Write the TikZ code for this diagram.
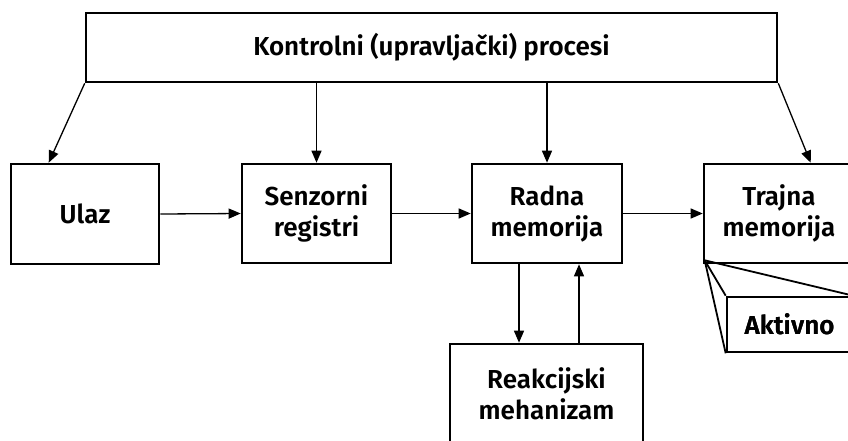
\documentclass[tikz,border=0pt]{standalone}
\usepackage{fontspec}
\IfFontExistsTF{Fira Sans SemiBold}
  {\setmainfont{Fira Sans}[BoldFont={Fira Sans SemiBold}]}
  {\setmainfont{Fira Sans}}
\usetikzlibrary{arrows.meta,calc}
\tikzset{
  box/.style={draw,line width=2.6pt,fill=white,align=center,inner sep=0pt,
    font=\fontsize{26}{31}\selectfont\bfseries},
  arr/.style={line width=1.3pt,-{Triangle[length=12pt,width=10pt]}},
  wedge/.style={line width=1.8pt}
}
\begin{document}
\begin{tikzpicture}[x=1pt,y=-1pt]
\useasboundingbox (0,0) rectangle (848,440);
\clip (0,0) rectangle (848,440);
\node[box,minimum width=691pt,minimum height=69pt] (top) at (431.5,47.5) {Kontrolni (upravljački) procesi};
\node[box,minimum width=148pt,minimum height=100pt] (ulaz) at (85,214) {Ulaz};
\node[box,minimum width=149pt,minimum height=99pt] (senz) at (316.5,213.5) {Senzorni\\registri};
\node[box,minimum width=150pt,minimum height=99pt] (radna) at (547,213.5) {Radna\\memorija};
\node[box,minimum width=150pt,minimum height=99pt] (trajna) at (779,213.5) {Trajna\\memorija};
\node[box,minimum width=193pt,minimum height=100pt] (reak) at (546.5,394) {Reakcijski\\mehanizam};
\coordinate (p) at ($(trajna.south west)+(2,-4)$);
\node[box,minimum width=125pt,minimum height=55pt] (akt) at (789.5,324.5) {Aktivno};
\draw[wedge] (p) -- (akt.north east);
\draw[wedge] (p) -- (akt.north west);
\draw[wedge] (p) -- (akt.south west);
\node[box,draw=none,fill=none] at (akt.center) {Aktivno};
% connectors from top
\draw[arr] (top.south west) -- ($(ulaz.north west)+(39,0)$);
\draw[arr] (top.south -| senz.north) -- (senz.north);
\draw[arr] (top.south -| radna.north) -- (radna.north);
\draw[arr] (top.south east) -- ($(trajna.north west)+(108,0)$);
% horizontal
\draw[arr] (ulaz.east) -- (senz.west);
\draw[arr] (senz.east) -- (radna.west);
\draw[arr] (radna.east) -- (trajna.west);
% vertical
\draw[arr] ($(radna.south)+(-28,0)$) -- ($(reak.north)+(-27.5,0)$);
\draw[arr] ($(reak.north)+(32.5,0)$) -- ($(radna.south)+(32,0)$);
\end{tikzpicture}
\end{document}
